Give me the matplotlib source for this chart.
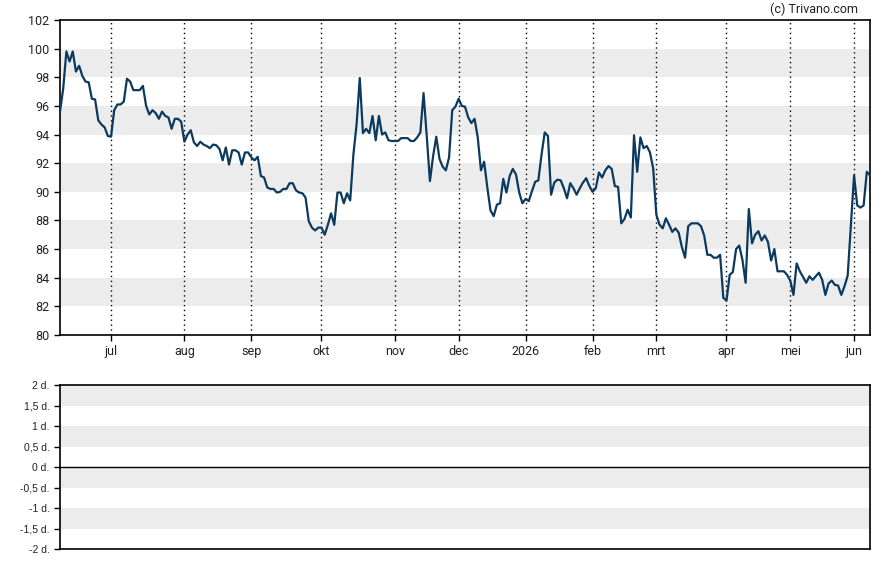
import numpy as np
import pandas as pd
from matplotlib import pyplot as plt

# %% Data --------------------------------------------------------------------------------------------------------------
start_date = "2025-06-09"
end_date = "2026-06-08"
holidays = ["2025-12-25", "2025-12-26", "2026-01-01", "2026-04-03", "2026-04-06", "2026-05-01"]

prices = [
    95.6, 97.2, 99.8, 99.1, 99.8, 98.4, 98.8, 98.1, 97.7, 97.65,
    96.5, 96.45, 95.0, 94.7, 94.5, 93.9, 93.85, 95.7, 96.1, 96.1,
    96.3, 97.9, 97.7, 97.1, 97.1, 97.1, 97.4, 96.0, 95.4, 95.7,
    95.5, 95.1, 95.6, 95.3, 95.2, 94.4, 95.1, 95.1, 94.9, 93.5,
    94.0, 94.3, 93.45, 93.2, 93.5, 93.3, 93.2, 93.05, 93.3, 93.25,
    93.0, 92.2, 93.1, 91.9, 92.9, 92.9, 92.75, 91.9, 92.75, 92.75,
    92.4, 92.2, 92.45, 91.1, 91.0, 90.3, 90.2, 90.2, 89.95, 90.0,
    90.2, 90.2, 90.6, 90.6, 90.1, 89.95, 89.9, 89.6, 87.95, 87.5,
    87.3, 87.5, 87.5, 87.0, 87.7, 88.5, 87.7, 89.95, 89.95, 89.2,
    89.9, 89.4, 92.6, 94.7, 97.95, 94.1, 94.4, 94.1, 95.3, 93.6,
    95.3, 94.0, 94.15, 93.6, 93.55, 93.55, 93.55, 93.75, 93.75, 93.75,
    93.55, 93.55, 93.8, 94.15, 96.9, 93.9, 90.75, 92.5, 93.85, 92.3,
    91.75, 91.5, 92.4, 95.7, 95.95, 96.5, 96.0, 95.95, 95.2, 94.8,
    95.1, 93.8, 91.5, 92.1, 90.3, 88.7, 88.3, 89.1, 89.2, 90.9,
    89.95, 91.1, 91.6, 91.2, 89.95, 89.2, 89.5, 89.35, 90.05, 90.7,
    90.8, 92.6, 94.15, 93.9, 89.8, 90.65, 90.85, 90.8, 90.25, 89.55,
    90.6, 90.25, 89.8, 90.25, 90.65, 90.95, 90.4, 90.0, 90.25, 91.35,
    91.0, 91.5, 91.8, 91.6, 90.4, 90.35, 87.8, 88.1, 88.75, 88.2,
    93.95, 91.4, 93.8, 93.05, 93.2, 92.75, 91.65, 88.4, 87.7, 87.45,
    88.15, 87.7, 87.2, 87.45, 87.15, 86.15, 85.4, 87.6, 87.8, 87.8,
    87.8, 87.6, 86.95, 85.6, 85.6, 85.4, 85.4, 85.6, 82.6, 82.4,
    84.2, 84.4, 86.0, 86.25, 85.25, 83.65, 88.8, 86.4, 87.0, 87.25,
    86.6, 86.95, 86.5, 85.2, 86.0, 84.45, 84.45, 84.45, 84.2, 83.8,
    82.8, 85.0, 84.45, 84.05, 83.65, 84.1, 83.85, 84.1, 84.35, 83.85,
    82.8, 83.6, 83.8, 83.5, 83.45, 82.8, 83.4, 84.15, 87.6, 91.15,
    89.05, 88.9, 89.05, 91.4, 91.15,
]

month_labels = ["jul", "aug", "sep", "okt", "nov", "dec", "2026", "feb", "mrt", "apr", "mei", "jun"]

top_yticks = [80, 82, 84, 86, 88, 90, 92, 94, 96, 98, 100, 102]
bottom_yticks = [-2, -1.5, -1, -0.5, 0, 0.5, 1, 1.5, 2]

# %% Trading-day axis --------------------------------------------------------------------------------------------------
days = pd.bdate_range(start_date, end_date)
days = days[~days.isin(pd.to_datetime(holidays))]
x = np.arange(len(days))

month_key = days.year * 12 + days.month
first_of_month = np.where(np.diff(month_key) != 0)[0] + 1

line_color = "#0b3a5e"
band_color = "#ececec"
text_color = "#222222"

fig = plt.figure(figsize=(8.88, 5.65), dpi=100)
ax = fig.add_axes([60 / 888, 230 / 565, 810 / 888, 315 / 565])
ax2 = fig.add_axes([60 / 888, 16 / 565, 810 / 888, 164 / 565])

# region Price chart
for lo in [82, 86, 90, 94, 98]:
    ax.axhspan(lo, lo + 2, color=band_color, lw=0, zorder=0)
for xi in first_of_month:
    ax.axvline(xi, color="black", lw=1, ls=(0, (1, 2.5)), zorder=1)
ax.plot(x[:len(prices)], prices, color=line_color, lw=1.6, zorder=3)
ax.set_xlim(0, len(days) - 1)
ax.set_ylim(80, 102)
ax.set_yticks(top_yticks)
ax.set_xticks(first_of_month)
ax.set_xticklabels(month_labels)
ax.tick_params(axis="both", direction="out", length=4, width=1, colors="black",
               labelcolor=text_color, labelsize=9)
for lbl in ax.get_xticklabels() + ax.get_yticklabels():
    lbl.set_fontfamily("Roboto")
for s in ax.spines.values():
    s.set_linewidth(1.2)
# endregion

# region Lower panel
for lo in [-1.5, -0.5, 0.5, 1.5]:
    ax2.axhspan(lo, lo + 0.5, color=band_color, lw=0, zorder=0)
ax2.axhline(0, color="black", lw=1)
ax2.set_xlim(0, len(days) - 1)
ax2.set_ylim(-2, 2)
ax2.set_xticks([])
ax2.set_yticks(bottom_yticks)
ax2.set_yticklabels([(f"{v:g}".replace(".", ",")) + " d." for v in bottom_yticks])
ax2.tick_params(axis="y", direction="out", length=4, width=1, labelcolor=text_color, labelsize=7.5)
for lbl in ax2.get_yticklabels():
    lbl.set_fontfamily("Liberation Sans")
for s in ax2.spines.values():
    s.set_linewidth(1.2)
# endregion

fig.text(858 / 888, 1 - 9 / 565, "(c) Trivano.com", ha="right", va="center",
         fontsize=9, family="Roboto", color=text_color)

fig.savefig("out.png", dpi=100)
